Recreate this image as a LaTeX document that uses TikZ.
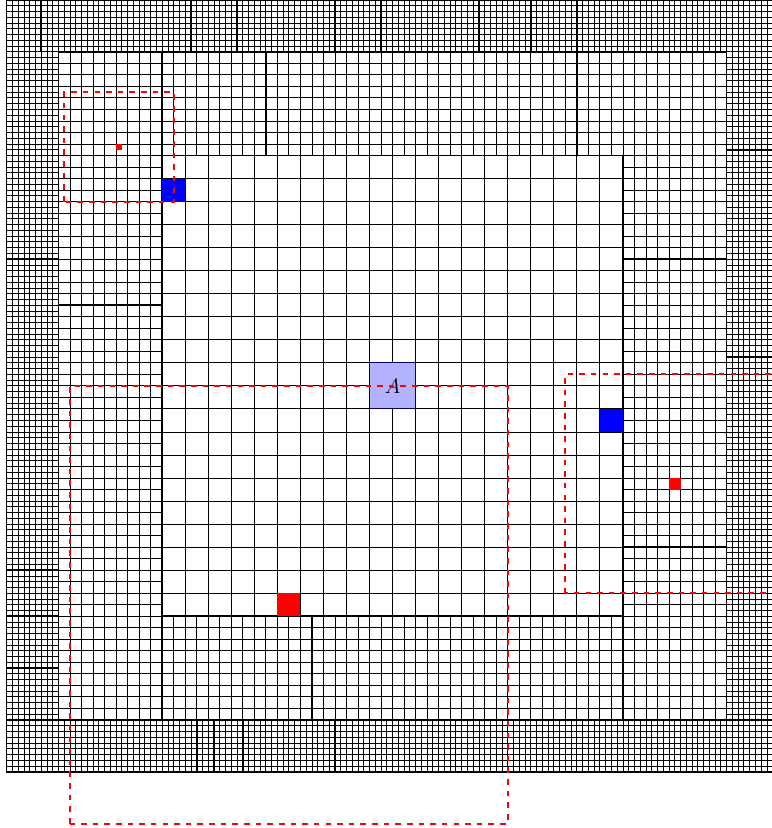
\documentclass[tikz,border=0pt]{standalone}
\tikzset{
  patch/.style={line width=1.6pt},
  window/.style={red,line width=2pt,dash pattern=on 5.5pt off 6pt},
  hitcell/.style={fill=red},
  nbcell/.style={fill=blue}
}
\begin{document}
\begin{tikzpicture}[x=2mm,y=2mm,line width=0.8pt]
\useasboundingbox (-1.16,-9.77) rectangle (132.8,134);

% fine level
\draw[step=1] (0,0) grid (134,9);
\draw[step=1] (0,125) grid (134,134);
\draw[step=1] (0,9) grid (9,125);
\draw[step=1] (125,9) grid (134,125);

% medium level
\begin{scope}[shift={(1,1)}]
\draw[step=2] (8,8) grid (124,26);
\draw[step=2] (8,106) grid (124,124);
\draw[step=2] (8,26) grid (26,106);
\draw[step=2] (106,26) grid (124,106);
\end{scope}

% coarse level
\begin{scope}[shift={(3,3)}]
\draw[step=4] (24,24) grid (104,104);
\end{scope}

% patch boundaries
\draw[patch] (0,0) rectangle (134,134);
\draw[patch] (9,9) rectangle (125,125);
\draw[patch] (27,27) rectangle (107,107);
\draw[patch] (27,107) -- (27,125) (45,107) -- (45,125) (63,107) -- (63,125)
  (99,107) -- (99,125) (117,107) -- (117,125) (107,111) -- (117,111);
\draw[patch] (9,107) -- (27,107) (9,99) -- (27,99) (9,81) -- (27,81) (9,45) -- (27,45);
\draw[patch] (107,89) -- (125,89) (107,53) -- (125,53) (107,39) -- (125,39);
\draw[patch] (17,9) -- (17,27) (27,9) -- (27,27) (53,9) -- (53,27) (107,9) -- (107,27);
\draw[patch] (0,116) -- (9,116) (0,107) -- (9,107) (0,98) -- (9,98) (0,89) -- (9,89)
  (0,62) -- (9,62) (0,53) -- (9,53) (0,44) -- (9,44) (0,35) -- (9,35) (0,27) -- (9,27)
  (0,18) -- (9,18);
\draw[patch] (125,116) -- (134,116) (125,108) -- (134,108) (125,99) -- (134,99)
  (125,90) -- (134,90) (125,72) -- (134,72) (125,36) -- (134,36);
\draw[patch] (6,125) -- (6,134) (32,125) -- (32,134) (40,125) -- (40,134) (57,125) -- (57,134)
  (65,125) -- (65,134) (82,125) -- (82,134) (91,125) -- (91,134) (99,125) -- (99,134)
  (108,125) -- (108,134) (117,125) -- (117,134);
\draw[patch] (33,0) -- (33,9) (36,0) -- (36,9) (41,0) -- (41,9) (50,0) -- (50,9) (57,0) -- (57,9);

% marked cells
\fill[nbcell] (27,99) rectangle (31,103);
\fill[nbcell] (103,59) rectangle (107,63);
\fill[hitcell] (19,108) rectangle (20,109);
\fill[hitcell] (115,49) rectangle (117,51);
\fill[hitcell] (47,27) rectangle (51,31);

\node[draw=blue!40!black,fill=blue!30,line width=0.8pt,minimum size=16mm,inner sep=0pt,font=\huge] (A) at (67,67) {$A$};

% search windows
\draw[window] (10,99) rectangle (29,118);
\draw[window] (11,-9) rectangle (87,67);
\draw[window] (97,31) rectangle (135,69);

\end{tikzpicture}
\end{document}
